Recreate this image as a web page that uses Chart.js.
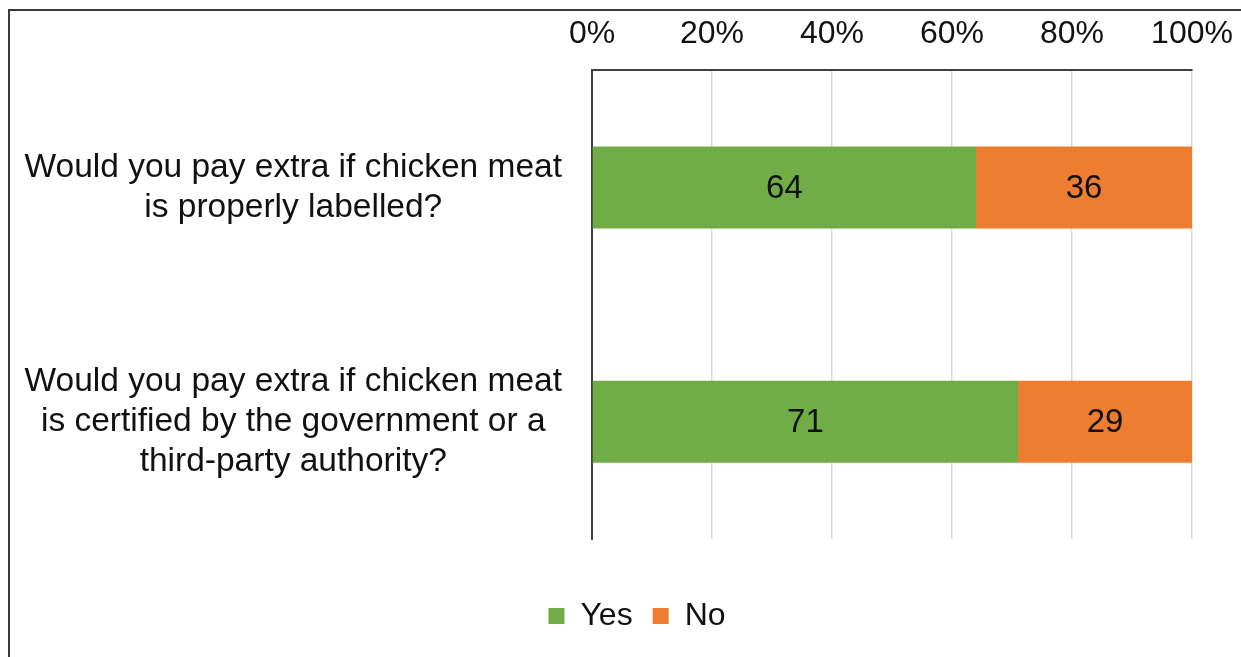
<!DOCTYPE html>
<html>
<head>
<meta charset="utf-8">
<script src="https://cdn.jsdelivr.net/npm/chart.js@4/dist/chart.umd.min.js"></script>
<style>
    html, body { margin: 0; padding: 0; background: #fff; overflow: hidden; width: 1241px; height: 657px; }
    #frame { position: absolute; left: 8px; top: 9px; width: 1300px; height: 700px; border-left: 2px solid #3a3a3a; border-top: 2px solid #3a3a3a; pointer-events: none; }
    #chart { position: absolute; left: 0; top: 0; }
</style>
</head>
<body>
<canvas id="chart" width="1270" height="657"></canvas>
<div id="frame"></div>
<script>
// survey questions (one per bar)
const questions = [
    ['Would you pay extra if chicken meat', 'is properly labelled?'],
    ['Would you pay extra if chicken meat', 'is certified by the government or a', 'third-party authority?']
]
const yesValues = [64, 71]
const noValues = [36, 29]
const percentTicks = [0, 20, 40, 60, 80, 100]

const fontFamily = '"Liberation Sans", Arial, sans-serif'
const textColor = '#111'

// draws the value in the middle of every bar segment
const barValueLabels = {
    id: 'barValueLabels',
    afterDatasetsDraw(chart) {
        const ctx = chart.ctx
        ctx.save()
        ctx.font = '33px ' + fontFamily
        ctx.fillStyle = textColor
        ctx.textAlign = 'center'
        ctx.textBaseline = 'middle'
        chart.data.datasets.forEach((dataset, i) => {
            const meta = chart.getDatasetMeta(i)
            meta.data.forEach((bar, index) => {
                const p = bar.getProps(['x', 'y', 'base'], true)
                ctx.fillText(dataset.data[index], (p.x + p.base) / 2, p.y + 1)
            })
        })
        ctx.restore()
    }
}

document.addEventListener('DOMContentLoaded', function() {
    Chart.defaults.font.family = fontFamily
    Chart.defaults.font.size = 32
    Chart.defaults.color = textColor

    let barData = {
        labels: questions,
        datasets: [{
            label: 'Yes',
            data: yesValues,
            backgroundColor: '#70AD47',
            borderWidth: 0
        },
        {
            label: 'No',
            data: noValues,
            backgroundColor: '#ED7D31',
            borderWidth: 0
        }]
    }

    let barOptions = {
        indexAxis: 'y',
        responsive: false,
        animation: false,
        categoryPercentage: 1,
        barPercentage: 0.35,
        layout: {
            // top axis takes label height + 2 * tick padding
            padding: { left: 12, right: 8, top: -2, bottom: 15 }
        },
        scales: {
            x: {
                position: 'top',
                stacked: true,
                min: 0,
                max: 100,
                afterBuildTicks: scale => { scale.ticks = percentTicks.map(v => ({ value: v })) },
                ticks: {
                    padding: 17,
                    callback: value => value + '%'
                },
                grid: { color: '#d9d9d9', lineWidth: 1.5, drawTicks: false },
                border: { display: true, color: '#404040', width: 2 }
            },
            y: {
                stacked: true,
                afterFit: scale => { scale.width = 580 },
                ticks: {
                    // gap to the axis comes from the (invisible) tick marks,
                    // so the tall labels don't push the plot down
                    padding: 0,
                    crossAlign: 'center',
                    font: { size: 33.5, lineHeight: 1.2 }
                },
                grid: {
                    display: true,
                    drawOnChartArea: false,
                    drawTicks: true,
                    tickLength: 30,
                    color: 'rgba(0,0,0,0)',
                    tickColor: 'rgba(0,0,0,0)'
                },
                border: { display: true, color: '#404040', width: 2 }
            },
            // spacer between plot and legend
            xGap: {
                type: 'linear',
                position: 'bottom',
                afterFit: scale => { scale.height = 41 },
                ticks: { display: false },
                grid: { display: false, drawTicks: false },
                border: { display: false }
            },
            // empty room at the right so the legend sits where it should
            yGap: {
                type: 'linear',
                position: 'right',
                afterFit: scale => { scale.width = 70 },
                ticks: { display: false },
                grid: { display: false, drawTicks: false },
                border: { display: false }
            }
        },
        plugins: {
            legend: {
                position: 'bottom',
                labels: {
                    boxWidth: 16,
                    boxHeight: 16,
                    padding: 20,
                    font: { size: 32 }
                }
            },
            tooltip: { enabled: false }
        }
    }

    let barChart = new Chart(document.getElementById('chart'), {
        type: 'bar',
        data: barData,
        options: barOptions,
        plugins: [barValueLabels]
    })
})
</script>
</body>
</html>
